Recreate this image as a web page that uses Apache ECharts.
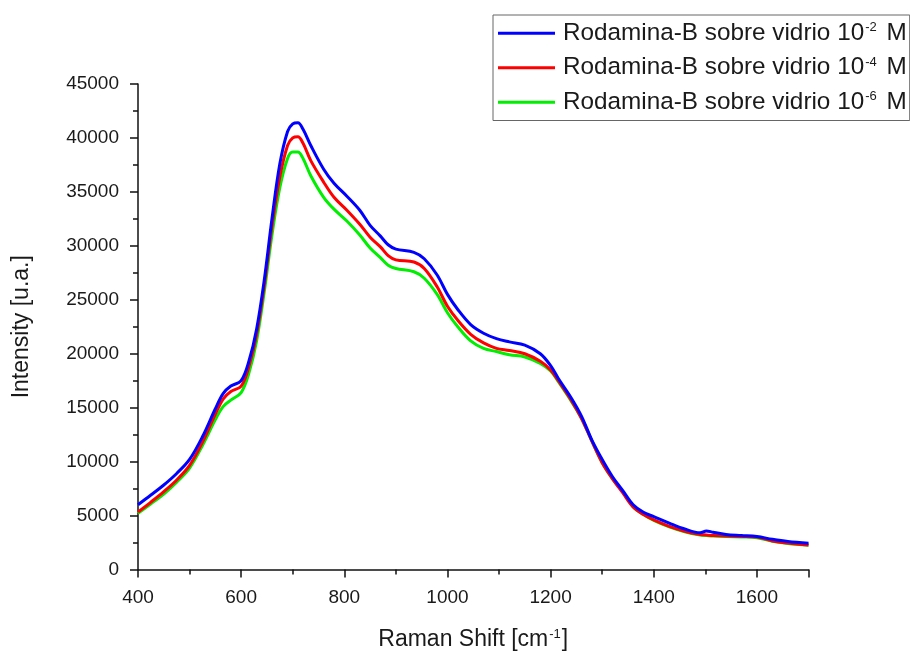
<!DOCTYPE html>
<html>
<head>
<meta charset="utf-8">
<script src="https://cdn.jsdelivr.net/npm/echarts@6/dist/echarts.min.js"></script>
<style>
  html, body { margin: 0; padding: 0; background: #fff; }
  #chart { width: 910px; height: 656px; }
</style>
</head>
<body>
<div id="chart"></div>
<script>
// Raman shift positions (cm^-1) shared by the three spectra
const ramanShift = [400, 425, 450, 475, 500, 525, 550, 565, 580, 600, 615, 630, 645, 660, 675, 690, 700, 710, 720, 735,
  760, 780, 805, 830, 850, 870, 885, 900, 935, 955, 980, 1000, 1020, 1045, 1070, 1095, 1120, 1150, 1180, 1200,
  1215, 1240, 1260, 1280, 1300, 1320, 1340, 1360, 1380, 1400, 1430, 1460, 1490, 1502, 1515, 1540, 1570, 1600, 1630, 1660, 1700];

// Intensity (u.a.) for each concentration
const conc1e2 = [6000, 6900, 7830, 8900, 10200, 12300, 14900, 16300, 17000, 17500, 19300, 22300, 26900, 32600, 37600, 40600, 41300, 41400, 40800, 39300,
  37100, 35800, 34600, 33300, 31900, 30900, 30100, 29700, 29400, 28800, 27300, 25500, 24100, 22700, 21900, 21400, 21100, 20800, 20000, 18900,
  17700, 15900, 14200, 12000, 10200, 8600, 7300, 6000, 5300, 4900, 4300, 3750, 3400, 3580, 3450, 3250, 3150, 3050, 2800, 2600, 2430];

const conc1e4 = [5330, 6250, 7220, 8300, 9650, 11800, 14400, 15800, 16500, 17000, 18800, 21800, 26400, 31900, 36400, 39300, 40000, 40100, 39500, 37900,
  35900, 34500, 33300, 32000, 30800, 29900, 29100, 28700, 28500, 27900, 26200, 24400, 23100, 21800, 21000, 20500, 20300, 20000, 19300, 18500,
  17500, 15700, 14000, 11900, 9900, 8400, 7100, 5800, 5100, 4600, 4000, 3550, 3250, 3200, 3150, 3100, 3070, 3000, 2650, 2450, 2270];

const conc1e6 = [5200, 6100, 7000, 8100, 9400, 11500, 13900, 15100, 15700, 16400, 18200, 21200, 25800, 31100, 35400, 38100, 38700, 38700, 38100, 36500,
  34500, 33400, 32300, 31000, 29800, 28900, 28200, 27900, 27600, 27000, 25500, 23800, 22500, 21200, 20500, 20200, 19900, 19700, 19100, 18400,
  17400, 15600, 14000, 11900, 9900, 8400, 7200, 5800, 5100, 4550, 3950, 3500, 3200, 3150, 3100, 3050, 3020, 2950, 2620, 2420, 2250];

// Tick values shown on each axis
const xTicks = [400, 600, 800, 1000, 1200, 1400, 1600];
const yTicks = [0, 5000, 10000, 15000, 20000, 25000, 30000, 35000, 40000, 45000];

const seriesNames = ['Rodamina-B sobre vidrio 10{sup|-2} M', 'Rodamina-B sobre vidrio 10{sup|-4} M', 'Rodamina-B sobre vidrio 10{sup|-6} M'];
const seriesColors = ['#0000ff', '#ff0000', '#00ee00'];
const seriesValues = [conc1e2, conc1e4, conc1e6];
const zOrder = [4, 3, 2];

const FONT = '"Liberation Sans", Arial, sans-serif';
const TEXT = '#1a1a1a';

const chart = echarts.init(document.getElementById('chart'), null, { renderer: 'canvas' });

const pairs = vals => ramanShift.map((x, i) => [x, vals[i]]);

chart.setOption({
  animation: false,
  backgroundColor: '#ffffff',
  grid: { left: 138, right: 101.5, top: 84, bottom: 80.5, containLabel: false },
  legend: {
    orient: 'vertical',
    left: 493,
    top: 15,
    width: 415,
    padding: [6, 3, 6, 5],
    itemGap: 10,
    itemWidth: 57,
    itemHeight: 3,
    icon: 'rect',
    borderColor: '#666',
    borderWidth: 1,
    backgroundColor: '#fff',
    data: seriesNames,
    textStyle: {
      fontFamily: FONT,
      fontSize: 24.3,
      color: TEXT,
      lineHeight: 24.5,
      padding: [0, 0, 0, 3],
      rich: {
        sup: { fontFamily: FONT, fontSize: 13, color: TEXT, verticalAlign: 'top', padding: [0, 3, 11, 1] }
      }
    }
  },
  xAxis: {
    type: 'value',
    min: xTicks[0],
    max: 1700,
    interval: xTicks[1] - xTicks[0],
    name: 'Raman Shift [cm{sup|-1}]',
    nameLocation: 'middle',
    nameGap: 58,
    nameTextStyle: {
      fontFamily: FONT, fontSize: 23, color: TEXT,
      rich: { sup: { fontFamily: FONT, fontSize: 13, color: TEXT, verticalAlign: 'top', padding: [0, 1, 11, 1] } }
    },
    axisLine: { show: true, lineStyle: { color: '#111', width: 1.5 } },
    axisTick: { show: true, inside: false, length: 8, lineStyle: { color: '#111', width: 1.5 } },
    minorTick: { show: true, splitNumber: 2, length: 5, lineStyle: { color: '#111', width: 1.5 } },
    axisLabel: {
      fontFamily: FONT, fontSize: 19, color: TEXT, margin: 19, showMaxLabel: false,
      formatter: v => (xTicks.includes(v) ? String(v) : '')
    },
    splitLine: { show: false }
  },
  yAxis: {
    type: 'value',
    min: yTicks[0],
    max: yTicks[yTicks.length - 1],
    interval: yTicks[1] - yTicks[0],
    name: 'Intensity [u.a.]',
    nameLocation: 'middle',
    nameGap: 105,
    nameRotate: 90,
    nameTextStyle: { fontFamily: FONT, fontSize: 23, color: TEXT },
    axisLine: { show: true, lineStyle: { color: '#111', width: 1.5 } },
    axisTick: { show: true, inside: false, length: 8, lineStyle: { color: '#111', width: 1.5 } },
    minorTick: { show: true, splitNumber: 2, length: 5, lineStyle: { color: '#111', width: 1.5 } },
    axisLabel: {
      fontFamily: FONT, fontSize: 19, color: TEXT, margin: 19,
      formatter: v => (yTicks.includes(v) ? String(v) : '')
    },
    splitLine: { show: false }
  },
  series: seriesNames.map((name, i) => ({
    name,
    type: 'line',
    data: pairs(seriesValues[i]),
    smooth: 0.35,
    showSymbol: false,
    symbol: 'none',
    z: zOrder[i],
    color: seriesColors[i],
    lineStyle: { color: seriesColors[i], width: 3 }
  }))
});
</script>
</body>
</html>
